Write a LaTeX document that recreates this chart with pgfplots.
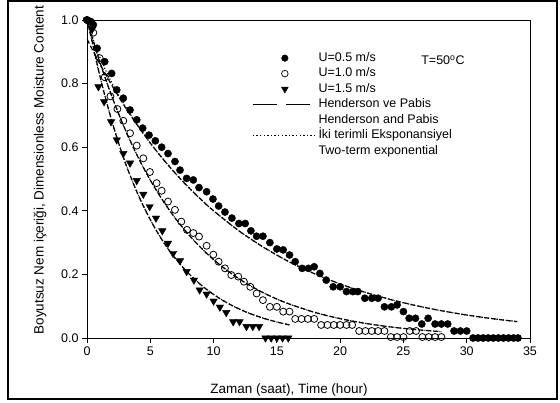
\documentclass[border=0pt]{standalone}
\usepackage{fontspec}
\setmainfont{Liberation Sans}
\usepackage{pgfplots}
\pgfplotsset{compat=1.18}

% measured moisture ratio, three air velocities at T=50 C
\pgfplotstableread{
t mr
0 1.0
0.3 0.995
0.5 0.985
0.8 0.911
1.4 0.869
1.95 0.832
2.35 0.78
2.87 0.754
3.4 0.717
3.93 0.686
4.4 0.660
4.9 0.638
5.4 0.620
5.9 0.600
6.4 0.580
6.95 0.555
7.35 0.528
7.87 0.502
8.4 0.497
8.85 0.473
9.45 0.46
9.95 0.437
10.4 0.415
10.9 0.396
11.45 0.377
12.0 0.36
12.5 0.36
12.95 0.337
13.4 0.32
13.9 0.32
14.45 0.30
15.0 0.28
15.5 0.277
16.0 0.261
16.45 0.24
17.0 0.219
17.5 0.219
17.95 0.224
18.4 0.203
18.9 0.182
19.45 0.161
20.0 0.161
20.5 0.146
21.0 0.146
21.4 0.146
21.95 0.125
22.5 0.125
23.0 0.125
23.5 0.098
24.05 0.098
24.5 0.104
25.0 0.083
25.45 0.062
25.95 0.062
26.45 0.044
26.95 0.062
27.5 0.044
28.0 0.044
28.5 0.044
29.0 0.022
29.5 0.022
30.0 0.022
30.5 0
30.9 0
31.3 0
31.7 0
32.1 0
32.5 0
32.9 0
33.3 0
33.7 0
34.05 0
}\uslow

\pgfplotstableread{
t mr
0 1.0
0.5 0.96
1.0 0.88
1.4 0.82
1.85 0.76
2.4 0.72
2.87 0.683
3.4 0.644
3.93 0.605
4.45 0.565
4.97 0.522
5.5 0.487
5.9 0.463
6.4 0.429
6.95 0.403
7.45 0.366
7.9 0.34
8.4 0.33
8.85 0.319
9.45 0.29
9.98 0.262
10.4 0.24
10.9 0.219
11.4 0.198
11.95 0.193
12.4 0.177
12.9 0.161
13.4 0.14
13.9 0.119
14.45 0.098
15.0 0.098
15.5 0.083
16.0 0.083
16.45 0.06
16.95 0.06
17.45 0.06
17.95 0.06
18.5 0.041
19.0 0.041
19.5 0.041
20.0 0.041
20.5 0.041
20.95 0.041
21.5 0.022
22.0 0.022
22.5 0.022
23.0 0.022
23.5 0.022
24.0 0.003
24.5 0.003
25.0 0.003
25.5 0.022
26.0 0.022
26.5 0.003
27.0 0.003
27.5 0.003
28.0 0.003
}\umid

\pgfplotstableread{
t mr
0 1.0
0.4 0.97
0.9 0.79
1.35 0.743
1.9 0.68
2.35 0.623
2.87 0.58
3.4 0.55
3.93 0.495
4.45 0.452
4.95 0.413
5.45 0.377
5.95 0.337
6.4 0.298
6.8 0.266
7.35 0.243
7.87 0.209
8.45 0.182
8.9 0.151
9.45 0.138
10.0 0.116
10.5 0.097
11.0 0.08
11.55 0.051
12.05 0.051
12.6 0.036
13.1 0.036
13.6 0.036
14.1 0
14.55 0
15.0 0
15.45 0
15.9 0
}\ufast

% fitted curves (Henderson and Pabis / two-term exponential)
\pgfplotstableread{
t hp tt
0 0.94 1.0
0.5 0.901 0.937
1 0.863 0.885
1.5 0.827 0.840
2 0.792 0.800
3 0.727 0.730
4 0.668 0.669
5 0.613 0.613
6 0.563 0.563
7 0.517 0.517
8 0.4745 0.4745
9 0.4357 0.4357
10 0.400 0.400
12 0.337 0.337
14 0.284 0.284
16 0.239 0.239
18 0.2017 0.2017
20 0.170 0.170
22 0.1433 0.1433
24 0.1208 0.1208
26 0.1018 0.1018
28 0.0858 0.0858
30 0.0723 0.0723
32 0.0609 0.0609
34 0.0514 0.0514
}\fitslow

\pgfplotstableread{
t hp tt
0 1.0 1.0
1 0.8694 0.8694
2 0.7558 0.7558
3 0.6570 0.6570
4 0.5712 0.5712
5 0.4966 0.4966
6 0.4317 0.4317
7 0.3753 0.3753
8 0.3263 0.3263
9 0.2837 0.2837
10 0.2466 0.2466
11 0.2144 0.2144
12 0.1864 0.1864
13 0.1620 0.1620
14 0.1409 0.1409
15 0.1225 0.1225
16 0.1065 0.1065
18 0.0805 0.0805
20 0.0608 0.0608
22 0.0460 0.0460
24 0.0347 0.0347
26 0.0263 0.0263
28 0.0198 0.0198
}\fitmid

\pgfplotstableread{
t hp tt
0 1.01 1.0
1 0.827 0.827
2 0.677 0.677
3 0.554 0.554
4 0.454 0.454
5 0.372 0.372
6 0.304 0.304
7 0.249 0.249
8 0.204 0.204
9 0.167 0.167
10 0.137 0.137
11 0.112 0.112
12 0.0916 0.0916
13 0.075 0.075
14 0.0614 0.0614
15 0.0503 0.0503
16 0.0412 0.0412
}\fitfast

\begin{document}
\begin{tikzpicture}[x=1pt,y=1pt]
\useasboundingbox (0,0) rectangle (560,403);
\draw[line width=1.3pt] (8,4) rectangle (557,402);
\begin{axis}[
  at={(87pt,65pt)},anchor=south west,
  scale only axis,width=443pt,height=318pt,
  xmin=0,xmax=35,ymin=0,ymax=1,
  xtick={0,5,...,35},ytick={0,0.2,...,1.0},
  yticklabel style={/pgf/number format/fixed,/pgf/number format/fixed zerofill,/pgf/number format/precision=1},
  /pgf/number format/assume math mode=true,
  tick label style={font=\fontsize{12.5}{14}\selectfont},
  tick align=outside,major tick length=5pt,
  xtick pos=bottom,ytick pos=left,
  axis line style={line width=0.8pt},
  every tick/.style={black,line width=0.8pt},
  xlabel={Zaman (saat), Time (hour)},
  ylabel={Boyutsuz Nem içeriği, Dimensionless Moisture Content},
  label style={font=\fontsize{13.5}{16}\selectfont},
  xlabel style={at={(axis description cs:0.456,-0.163)},anchor=center},
  ylabel style={at={(axis description cs:-0.106,0.528)},anchor=center,rotate=0},
  legend image code/.code={\draw[mark repeat=2,mark phase=2,#1] plot coordinates {(0pt,0pt) (32pt,0pt) (64pt,0pt)};},
  legend style={draw=none,fill=none,at={(rel axis cs:0.3657,0.909)},anchor=north west,
    font=\fontsize{12.5}{14}\selectfont,
    nodes={inner sep=1pt,text height=9pt,text depth=3pt},row sep=1.5pt,
    /tikz/every even column/.append style={column sep=21pt}},
  legend cell align=left,
]
% fitted curves
\addplot[black,line width=1.2pt,dash pattern=on 5pt off 2.5pt,smooth,forget plot] table[x=t,y=hp] {\fitslow};
\addplot[black,line width=1.2pt,dash pattern=on 1pt off 2pt,smooth,forget plot] table[x=t,y=tt] {\fitslow};
\addplot[black,line width=1.2pt,dash pattern=on 5pt off 2.5pt,smooth,forget plot] table[x=t,y=hp] {\fitmid};
\addplot[black,line width=1.2pt,dash pattern=on 1pt off 2pt,smooth,forget plot] table[x=t,y=tt] {\fitmid};
\addplot[black,line width=1.2pt,dash pattern=on 5pt off 2.5pt,smooth,forget plot] table[x=t,y=hp] {\fitfast};
\addplot[black,line width=1.2pt,dash pattern=on 1pt off 2pt,smooth,forget plot] table[x=t,y=tt] {\fitfast};
% measured data
\addplot[only marks,mark=*,mark size=3.6pt,black,forget plot] table[x=t,y=mr] {\uslow};
\addplot[only marks,mark=o,mark size=3.5pt,black,line width=0.8pt,mark options={fill=white},forget plot] table[x=t,y=mr] {\umid};
\addplot[only marks,mark=triangle*,mark size=4.3pt,black,mark options={rotate=180},forget plot] table[x=t,y=mr] {\ufast};
% legend
\addlegendimage{only marks,mark=*,mark size=3.3pt,black}
\addlegendentry{U=0.5 m/s}
\addlegendimage{only marks,mark=o,mark size=3.3pt,black,line width=0.7pt}
\addlegendentry{U=1.0 m/s}
\addlegendimage{only marks,mark=triangle*,mark size=3.9pt,black,mark options={rotate=180}}
\addlegendentry{U=1.5 m/s}
\addlegendimage{black,line width=1.1pt,dash pattern=on 24pt off 9pt}
\addlegendentry{Henderson ve Pabis}
\addlegendimage{empty legend}
\addlegendentry{Henderson and Pabis}
\addlegendimage{black,line width=1.3pt,dash pattern=on 1.3pt off 2.3pt}
\addlegendentry{İki terimli Eksponansiyel}
\addlegendimage{empty legend}
\addlegendentry{Two-term exponential}
\node[anchor=west,font=\fontsize{12.5}{14}\selectfont,inner sep=0pt] at (axis cs:26.4,0.874) {T=50\textsuperscript{o}C};
\end{axis}
\end{tikzpicture}
\end{document}
